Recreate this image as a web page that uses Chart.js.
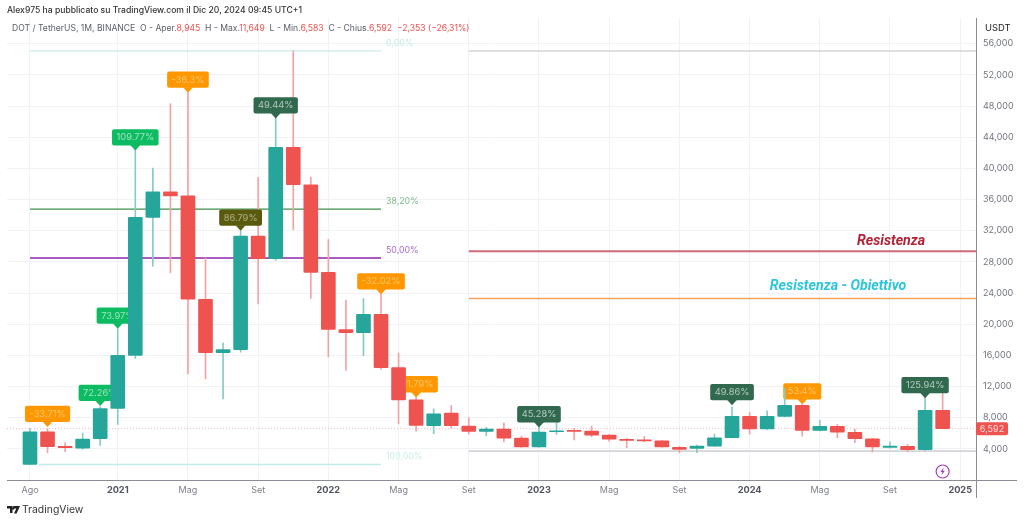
<!DOCTYPE html>
<html><head><meta charset="utf-8">
<script src="https://cdn.jsdelivr.net/npm/chart.js@4"></script>
<style>
html,body{margin:0;padding:0;background:#fff;width:1024px;height:522px;overflow:hidden}
#wrap{position:relative;width:1024px;height:522px}
canvas{position:absolute;left:0;top:0}
.t{position:absolute;font-family:Inter,"Open Sans",sans-serif;white-space:pre;line-height:12px}
#h1{left:7px;top:4px;font-size:8.6px;font-weight:500;color:#333}
#h2{left:12px;top:22px;font-size:8.6px;color:#5d606b}
#h2 b{font-weight:400;color:#ef5350}
#usdt{left:985px;top:22px;font-size:9.4px;color:#222}
#brand{left:22px;top:504px;font-size:10.4px;color:#333}
#logo{position:absolute;left:7px;top:506px}
</style></head><body>
<div id="wrap">
<canvas id="c" width="1024" height="522"></canvas>
<div class="t" id="h1">Alex975 ha pubblicato su TradingView.com il Dic 20, 2024 09:45 UTC+1</div>
<div class="t" id="h2">DOT / TetherUS, 1M, BINANCE  O - Aper.<b>8,945</b>  H - Max.<b>11,649</b>  L - Min.<b>6,583</b>  C - Chius.<b>6,592  −2,353 (−26,31%)</b></div>
<div class="t" id="usdt">USDT</div>
<svg id="logo" width="13" height="8" viewBox="0 0 13 8"><path d="M0 0h5.5v7H3V2.4H0zM6.2 0h6.8L9.6 7.4H7L9.3 2.4H7.4a1.2 1.2 0 1 1-1.2-1.2z" fill="#222"/></svg>
<div class="t" id="brand">TradingView</div>
</div>
<script>
const opens  = [2.0,6.19,4.31,4.10,5.29,9.18,16.0,33.7,37.0,36.46,23.2,16.35,16.74,31.3,28.4,42.7,37.9,26.64,19.3,18.9,21.26,14.43,10.29,6.96,8.58,6.92,6.24,6.53,5.38,4.23,6.19,6.36,6.28,5.76,5.21,5.12,5.03,4.19,4.06,4.35,5.42,8.16,6.57,8.16,9.57,6.36,6.88,6.11,5.29,4.19,4.31,3.88,8.945];
const closes = [6.19,4.27,4.14,5.25,9.18,16.0,33.7,37.0,36.46,23.2,16.35,16.74,31.3,28.4,42.7,37.9,26.64,19.34,18.9,21.26,14.43,10.29,7.0,8.49,6.96,6.24,6.53,5.38,4.23,6.15,6.31,6.24,5.76,5.25,5.08,5.03,4.23,3.93,4.35,5.42,8.16,6.57,8.16,9.57,6.36,6.88,6.15,5.29,4.23,4.35,3.88,8.945,6.592];
const highs  = [6.6,6.6,4.78,6.02,9.4,19.4,42.4,40.05,48.3,49.95,28.5,17.6,32.0,38.85,46.5,55.07,38.85,30.87,23.1,23.27,23.9,16.3,10.9,9.13,9.57,7.98,6.75,7.34,5.6,6.83,7.47,6.62,6.92,5.85,5.34,5.6,5.1,4.3,4.48,5.89,9.4,8.71,8.88,11.74,9.8,7.68,7.13,6.53,5.35,4.9,4.57,11.1,11.649];
const lows   = [2.0,3.5,3.63,3.93,4.44,7.13,15.6,27.45,26.6,13.6,12.97,10.4,16.4,22.6,28.2,32.15,23.3,15.8,14.05,15.96,14.2,7.2,6.28,5.93,6.7,5.89,5.67,4.9,4.2,4.2,5.85,5.16,5.55,4.96,4.14,4.9,4.2,3.5,3.5,4.3,5.4,5.89,6.5,8.1,5.63,6.3,5.42,4.78,3.59,4.1,3.6,3.75,6.583];

const tickMonths = [0,5,9,13,17,21,25,29,33,37,41,45,49,53];
const tickLabels = ["Ago","2021","Mag","Set","2022","Mag","Set","2023","Mag","Set","2024","Mag","Set","2025"];
const priceTicks = [4,8,12,16,20,24,28,32,36,40,44,48,52,56];

const calloutMonth = [1,4,5,6,9,12,14,20,22,29,40,44,51];
const calloutTip   = [6.8,9.5,19.4,42.3,49.7,32.0,46.4,23.8,10.6,6.75,9.6,9.7,10.5];
const calloutText  = ["-33.71%","72.26%","73.97%","109.77%","-36.3%","86.79%","49.44%","-32.02%","-11.79%","45.28%","49.86%","53.4%","125.94%"];
const calloutKind  = ["o","g","g","g","o","k","d","o","o","d","d","o","d"];
const calloutUnderWick = [44];

const fibLevels = [55.07,34.78,28.5,1.98];
const fibText   = ["0,00%","38,20%","50,00%","100,00%"];
const fibEndMonth = 20;
const levelStartMonth = 25;
const resistance = 29.37, target = 23.3, topGrey = 55.07, lowGrey = 3.71;
const lastPrice = closes[closes.length-1];

const months = opens.map((_,i)=>i);
const UP='#26a69a', DOWN='#ef5350', UPW='#86cbc4', DOWNW='#f3a3a6';
const xMin=-1.31, xMax=53.9;
const pts=(a,b,v)=>[{x:a,y:v},{x:b,y:v}];
const line=(a,b,v,color,width,extra)=>Object.assign({type:'line',data:pts(a,b,v),borderColor:color,borderWidth:width,pointRadius:0,order:3,fill:false},extra||{});

const calloutColor={o:'#ff9800',g:'#0cbb62',k:'#5a5a0e',d:'#31694f'};
const calloutInk={o:'rgba(255,255,255,.42)',g:'rgba(255,255,255,.6)',k:'rgba(255,255,255,.5)',d:'rgba(255,255,255,.62)'};
const FONT='Inter,"Open Sans",sans-serif';

const overlay={
  id:'overlay',
  beforeDatasetDraw(chart,args){
    if(args.index>1) return;
    const {ctx,scales:{x,y}}=chart;
    ctx.save();
    ctx.font='9.3px '+FONT;
    ctx.textAlign='center';ctx.textBaseline='middle';
    calloutMonth.forEach((m,i)=>{
      const under=calloutUnderWick.includes(m);
      if((args.index===0)!==under) return;
      const cx=x.getPixelForValue(m), tip=y.getPixelForValue(calloutTip[i]);
      const w=ctx.measureText(calloutText[i]).width+9, bot=tip-5, top=bot-16.3;
      ctx.fillStyle=calloutColor[calloutKind[i]];
      ctx.beginPath();ctx.roundRect(cx-w/2,top,w,16.3,2);ctx.fill();
      ctx.beginPath();ctx.moveTo(cx-5,bot-.5);ctx.lineTo(cx,tip);ctx.lineTo(cx+5,bot-.5);ctx.fill();
      ctx.fillStyle=calloutInk[calloutKind[i]];
      ctx.fillText(calloutText[i],cx,top+8.4);
    });
    ctx.restore();
  },
  afterDatasetsDraw(chart){
    const {ctx,chartArea:a,scales:{x,y}}=chart;
    ctx.save();
    ctx.font='8.8px '+FONT;ctx.textBaseline='middle';
    const fibInk=['#c3ebe6','#7db98a','#a86bd0','#cdeeea'];
    const fibGapPx=[-8,-8,-8,-8];
    fibText.forEach((t,i)=>{
      ctx.fillStyle=fibInk[i];
      ctx.textAlign='left';
      ctx.fillText(t,386,y.getPixelForValue(fibLevels[i])+fibGapPx[i]);
    });
    ctx.font='italic 700 14.2px Roboto,'+FONT;ctx.textAlign='center';
    ctx.fillStyle='#b32236';ctx.fillText('Resistenza',x.getPixelForValue(49.06),y.getPixelForValue(resistance)-10);
    ctx.fillStyle='#2cc5da';ctx.fillText('Resistenza - Obiettivo',x.getPixelForValue(46.04),y.getPixelForValue(target)-12);
    ctx.strokeStyle='#8a8d96';ctx.lineWidth=1;
    ctx.beginPath();ctx.moveTo(7,a.bottom+.5);ctx.lineTo(1017,a.bottom+.5);ctx.moveTo(a.right+.5,18);ctx.lineTo(a.right+.5,498);ctx.stroke();
    const py=y.getPixelForValue(lastPrice);
    ctx.fillStyle=DOWN;ctx.beginPath();ctx.roundRect(a.right,py-6.5,32,13,2);ctx.fill();
    ctx.fillStyle='rgba(255,255,255,.8)';ctx.font='9px '+FONT;ctx.textAlign='center';
    ctx.fillText(lastPrice.toFixed(3).replace('.',','),a.right+16,py+.5);
    ctx.strokeStyle='#9c3fc4';ctx.lineWidth=1.2;
    const bx=x.getPixelForValue(52), by=471.5;
    ctx.beginPath();ctx.arc(bx,by,6.5,0,Math.PI*2);ctx.stroke();
    ctx.fillStyle='#9c3fc4';ctx.beginPath();
    ctx.moveTo(bx+1.2,by-4);ctx.lineTo(bx-2.2,by+.6);ctx.lineTo(bx-.2,by+.6);ctx.lineTo(bx-1.2,by+4);ctx.lineTo(bx+2.2,by-.8);ctx.lineTo(bx+.2,by-.8);ctx.closePath();ctx.fill();
    ctx.restore();
  }
};

new Chart(document.getElementById('c'),{
  type:'bar',
  data:{datasets:[
    {label:'wicks',data:months.map(i=>({x:i,y:[lows[i],highs[i]]})),backgroundColor:months.map(i=>closes[i]>=opens[i]?UPW:DOWNW),barThickness:1,grouped:false,order:2,borderSkipped:false},
    {label:'bodies',data:months.map(i=>({x:i,y:[opens[i],closes[i]]})),backgroundColor:months.map(i=>closes[i]>=opens[i]?UP:DOWN),barThickness:14,grouped:false,order:1,borderSkipped:false,minBarLength:1,borderRadius:1},
    line(0,fibEndMonth,fibLevels[0],'#b9e8e2',1),
    line(0,fibEndMonth,fibLevels[1],'#3f8f4c',1.2),
    line(0,fibEndMonth,fibLevels[2],'#8e24aa',1.4),
    line(0.5,fibEndMonth,fibLevels[3],'#c2ece7',1.4),
    line(levelStartMonth,xMax,topGrey,'#d4d5d8',1.4),
    line(levelStartMonth,xMax,lowGrey,'#d4d5d8',1.6),
    line(levelStartMonth,xMax,resistance,'#cf6a7a',2),
    line(levelStartMonth,xMax,target,'#f4a35c',1.6),
    line(xMin,xMax,lastPrice,'#f7b9bb',1,{borderDash:[1,2]})
  ]},
  plugins:[overlay],
  options:{
    responsive:false,animation:false,devicePixelRatio:1,
    layout:{padding:{left:7,top:18,right:0,bottom:0}},
    plugins:{legend:{display:false},tooltip:{enabled:false}},
    scales:{
      x:{type:'linear',min:xMin,max:xMax,offset:false,
        afterBuildTicks(ax){ax.ticks=tickMonths.map(v=>({value:v}));},
        afterFit(ax){ax.height=42;},
        border:{display:false},
        grid:{color:'#f0f2f6',drawTicks:false,lineWidth:1,offset:false},
        ticks:{autoSkip:false,maxRotation:0,padding:5,
          callback:(v)=>{const i=tickMonths.indexOf(v);return i<0?'':tickLabels[i];},
          color:c=>/^\d/.test(tickLabels[c.index]||'')?'#50535e':'#7c7f88',
          font:c=>/^\d/.test(tickLabels[c.index]||'')?{family:FONT,size:9.2,weight:'700'}:{family:FONT,size:9,weight:'400'}}
      },
      y:{position:'right',min:0,max:59.3,
        afterBuildTicks(ax){ax.ticks=priceTicks.map(v=>({value:v}));},
        afterFit(ax){ax.width=48;},
        border:{display:false},
        grid:{color:'#f0f2f6',drawTicks:false,lineWidth:1},
        ticks:{padding:7,color:'#72757e',font:{family:FONT,size:9},autoSkip:false,
          callback:v=>v.toFixed(3).replace('.',',')}
      }
    }
  }
});
</script>
</body></html>
